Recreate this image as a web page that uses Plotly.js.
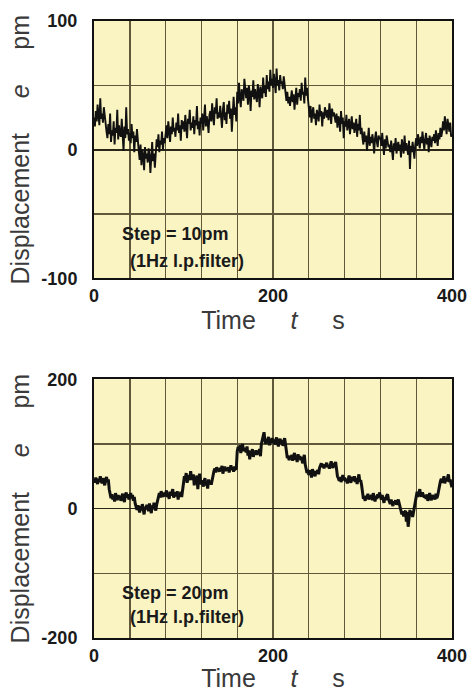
<!DOCTYPE html>
<html>
<head>
<meta charset="utf-8">
<script src="https://cdn.plot.ly/plotly-3.0.1.min.js"></script>
<style>html,body{margin:0;padding:0;background:#fff;}#chart{width:472px;height:692px;}</style>
</head>
<body>
<div id="chart"></div>
<script>
// Time axis (s), one sample per second
const timeStart = 0;
const timeStep = 1;

// Upper trace: step = 10 pm (pm)
const disp10 = [
25,18,30,22,35,27,19,40,24,28,
21,33,26,16,14,9,20,12,28,6,
15,11,22,4,17,13,31,8,19,12,
10,24,14,-1,18,9,33,12,16,7,
13,5,20,9,14,-2,11,6,16,3,
-1,-8,4,-12,0,-5,-16,2,-7,-3,
-10,1,-4,-18,-2,6,-9,-3,-14,0,
8,2,12,-2,7,4,14,0,9,5,
13,19,9,22,15,6,18,12,25,14,
17,10,21,15,28,13,19,7,23,16,
22,14,27,18,9,24,20,31,15,21,
17,26,12,23,19,34,16,22,11,25,
20,28,15,24,35,18,26,21,13,27,
30,22,36,26,19,33,28,40,24,29,
25,34,27,17,31,37,23,29,20,35,
28,38,24,32,14,30,41,27,33,22,
45,36,52,40,33,47,42,38,55,43,
40,48,35,50,44,30,46,41,54,39,
47,42,37,51,45,33,49,43,40,56,
44,50,41,58,47,53,45,62,50,55,
48,59,52,44,63,50,54,46,58,51,
53,47,57,49,42,38,45,36,41,34,
40,46,37,43,31,39,48,35,44,41,
47,38,52,43,45,36,56,42,48,40,
30,25,34,21,29,33,24,28,19,31,
27,22,35,26,30,18,29,24,33,27,
25,31,23,36,28,20,32,26,29,24,
21,28,17,26,23,14,30,20,25,9,
22,18,27,15,20,24,12,19,26,16,
21,13,18,24,10,20,15,27,12,17,
9,4,14,6,11,-1,8,17,3,10,
5,12,7,-3,9,14,6,2,11,8,
10,3,13,6,-4,8,1,11,5,2,
4,-2,7,1,-8,5,0,9,-3,3,
6,-1,4,-6,8,2,-3,11,0,5,
1,-4,7,-15,3,-2,6,0,-7,4,
9,3,12,6,1,10,5,14,7,0,
8,13,4,9,-2,11,6,2,10,7,
12,5,15,9,3,13,8,17,10,14,
22,15,26,18,12,24,19,14,21,10,
12
];

// Lower trace: step = 20 pm (pm)
const disp20 = [
45,40,48,42,38,46,41,50,44,39,
47,42,36,44,49,41,45,30,20,16,
22,14,19,11,24,17,13,21,15,20,
12,18,23,16,10,21,25,17,22,14,
19,24,16,21,12,18,8,3,-2,5,
0,-6,4,-3,7,1,-9,3,-1,6,
2,-4,8,0,-7,5,-1,9,2,-3,
6,12,20,24,17,27,21,18,25,19,
23,28,18,22,15,26,20,24,30,17,
21,25,19,27,14,23,20,26,18,31,
42,50,46,55,40,48,52,44,58,47,
45,53,36,49,43,51,30,46,54,41,
38,44,34,42,47,36,40,31,45,39,
43,37,46,52,58,62,56,64,59,61,
57,63,60,66,54,61,65,58,62,59,
64,56,61,67,60,63,57,65,61,62,
88,95,90,98,86,93,100,89,94,91,
87,96,82,90,76,88,85,92,80,87,
84,90,83,88,86,92,81,100,106,110,
118,105,100,108,102,111,98,106,103,109,
101,107,99,105,110,102,96,104,108,100,
106,97,103,109,99,84,78,82,75,80,
77,83,74,81,86,76,79,72,84,78,
81,75,80,70,77,83,68,62,55,60,
52,59,56,48,61,57,54,50,58,55,
60,53,63,67,70,64,69,62,68,65,
71,64,67,62,69,73,66,63,70,68,
72,60,50,47,43,49,41,46,52,44,
48,42,46,39,47,51,44,40,49,45,
43,50,41,47,38,46,53,42,44,36,
22,15,18,12,20,16,23,14,19,17,
21,13,24,18,11,20,15,22,17,25,
19,14,21,16,9,18,13,20,22,15,
12,7,14,9,4,11,8,13,6,10,
14,8,3,-2,-9,-4,-12,-7,-3,-20,
-5,-28,-8,-2,-10,-4,-13,-6,2,12,
20,26,18,24,30,21,19,25,22,17,
20,15,22,12,18,24,16,13,21,17,
19,14,23,16,20,28,38,42,46,40,
44,50,39,47,42,48,53,41,45,38,
33
];

// Tick labels
const xTicks = [0, 200, 400];
const xTickText = ['0', '200', '400'];
const yTicks10 = [-100, 0, 100];
const yTickText10 = ['-100', '0', '100'];
const yTicks20 = [-200, 0, 200];
const yTickText20 = ['-200', '0', '200'];
const noteTop = ["Step = 10pm", "(1Hz l.p.filter)"];
const noteBottom = ["Step = 20pm", "(1Hz l.p.filter)"];

const times = disp10.map((_, i) => timeStart + i * timeStep);
const times20 = disp20.map((_, i) => timeStart + i * timeStep);

const BG = '#faf4c2';
const GRID = '#5f583a';
const TICKFONT = {family: 'Liberation Sans, Arial, sans-serif', size: 18, color: '#1a1a1a', weight: 700};
const TITLEFONT = {family: 'Liberation Sans, Arial, sans-serif', size: 25, color: '#3a3a3a'};
const NOTEFONT = {family: 'Liberation Sans, Arial, sans-serif', size: 18, color: '#1a1a1a', weight: 700};
const SP = '\u00a0\u00a0\u00a0\u00a0\u00a0';

function xax(anchor) {
  return {
    domain: [0, 1], anchor: anchor, range: [0, 400],
    tickmode: 'array', tickvals: xTicks, ticktext: xTickText, ticks: '', tickfont: TICKFONT, ticklabelstandoff: 0,
    showgrid: true, gridcolor: GRID, gridwidth: 1.4,
    minor: {tickmode: 'linear', tick0: 0, dtick: 40, showgrid: true, gridcolor: GRID, gridwidth: 1.4},
    showline: true, mirror: true, linecolor: '#111', linewidth: 2,
    zeroline: false, automargin: false,
    title: {text: 'Time' + SP + '<i>t</i>' + SP + 's', font: TITLEFONT, standoff: 6}
  };
}
function yax(anchor, domain, range, ticks, texts) {
  return {
    domain: domain, anchor: anchor, range: range,
    tickmode: 'array', tickvals: ticks, ticktext: texts, ticks: '', tickfont: TICKFONT, ticklabelstandoff: 11,
    showgrid: false,
    minor: {tickmode: 'linear', tick0: 0, dtick: (range[1] - range[0]) / 4, showgrid: true, gridcolor: GRID, gridwidth: 1.4},
    showline: true, mirror: true, linecolor: '#111', linewidth: 2,
    zeroline: true, zerolinecolor: '#2a2618', zerolinewidth: 1.7, automargin: false,
    title: {text: 'Displacement' + SP + '<i>e</i>' + SP + 'pm', font: TITLEFONT, standoff: 5}
  };
}

const data = [
  {x: times, y: disp10, type: 'scatter', mode: 'lines', xaxis: 'x', yaxis: 'y',
   line: {color: '#111', width: 1.9}, hoverinfo: 'skip'},
  {x: times20, y: disp20, type: 'scatter', mode: 'lines', xaxis: 'x2', yaxis: 'y2',
   line: {color: '#111', width: 3}, hoverinfo: 'skip'}
];

const layout = {
  width: 472, height: 692,
  margin: {l: 94.3, r: 19.7, t: 20.7, b: 53.7},
  paper_bgcolor: '#ffffff', plot_bgcolor: BG,
  showlegend: false,
  xaxis: xax('y'),
  yaxis: yax('x', [0.5829, 1], [-100, 100], yTicks10, yTickText10),
  xaxis2: xax('y2'),
  yaxis2: yax('x2', [0, 0.4194], [-200, 200], yTicks20, yTickText20),
  annotations: [
    {xref: 'x', yref: 'y', x: 28.5, y: -65.6, text: noteTop[0], showarrow: false, xanchor: 'left', yanchor: 'middle', font: NOTEFONT},
    {xref: 'x', yref: 'y', x: 37.5, y: -86.5, text: noteTop[1], showarrow: false, xanchor: 'left', yanchor: 'middle', font: NOTEFONT},
    {xref: 'x2', yref: 'y2', x: 29.5, y: -131, text: noteBottom[0], showarrow: false, xanchor: 'left', yanchor: 'middle', font: NOTEFONT},
    {xref: 'x2', yref: 'y2', x: 38.5, y: -168, text: noteBottom[1], showarrow: false, xanchor: 'left', yanchor: 'middle', font: NOTEFONT}
  ]
};

Plotly.newPlot('chart', data, layout, {staticPlot: true, displayModeBar: false});
</script>
</body>
</html>
